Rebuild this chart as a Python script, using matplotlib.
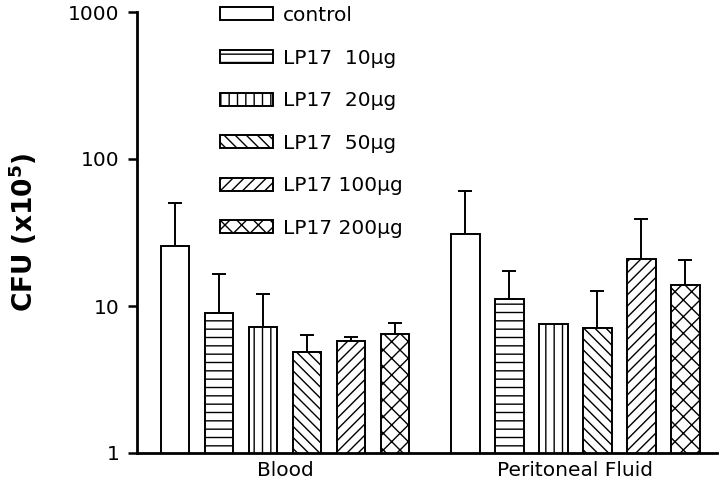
import matplotlib
matplotlib.use("Agg")
import matplotlib.pyplot as plt
import numpy as np

plt.rcParams['font.family'] = ['DejaVu Sans']
plt.rcParams['hatch.linewidth'] = 1.0

groups = ["Blood", "Peritoneal Fluid"]
series = ["control", "LP17  10\u00b5g", "LP17  20\u00b5g", "LP17  50\u00b5g", "LP17 100\u00b5g", "LP17 200\u00b5g"]
blood = [25.7, 8.9, 7.2, 4.9, 5.8, 6.45]
blood_err_top = [50.0, 16.5, 12.1, 6.35, 6.2, 7.65]
perit = [30.7, 11.2, 7.5, 7.1, 21.0, 14.0]
perit_err_top = [61.0, 17.4, 7.5, 12.6, 39.1, 20.7]
hatches = ["", "--", "||", "\\\\\\", "///", "xx"]
yticks = [1, 10, 100, 1000]
ytick_labels = ["1", "10", "100", "1000"]

fig = plt.figure(figsize=(7.2, 4.87), dpi=100)
ax = fig.add_axes([137/720, 1-453/487, (717-137)/720, (453-12)/487])

group_offsets = [0.0, 6.6]
width = 0.65
handles = []
for gi, (vals, tops) in enumerate([(blood, blood_err_top), (perit, perit_err_top)]):
    for si in range(len(series)):
        x = group_offsets[gi] + si
        b = ax.bar(x, vals[si], width=width, bottom=0.0001, color="white", edgecolor="black",
                   linewidth=1.4, hatch=hatches[si], zorder=2)
        err = tops[si] - vals[si]
        if err > 0.01:
            ax.errorbar(x, vals[si], yerr=[[0], [err]], fmt="none", ecolor="black",
                        elinewidth=1.4, capsize=5, capthick=1.4, zorder=1)
        if gi == 0:
            handles.append(b)

ax.set_yscale("log")
ax.set_ylim(1, 1000)
ax.set_xlim(-0.864, 12.32)
ax.set_yticks(yticks)
ax.set_yticklabels(ytick_labels)
ax.yaxis.set_minor_locator(matplotlib.ticker.NullLocator())
ax.set_xticks([group_offsets[0] + 2.5, group_offsets[1] + 2.5])
ax.set_xticklabels(groups)
ax.tick_params(axis="x", length=0, labelsize=14.5, pad=6)
ax.tick_params(axis="y", length=6.5, width=1.8, labelsize=14.5, pad=6)
for s in ["top", "right"]:
    ax.spines[s].set_visible(False)
for s in ["left", "bottom"]:
    ax.spines[s].set_linewidth(2.0)

ax.set_ylabel("CFU (x10$^\\mathregular{5}$)", fontsize=19, fontweight="bold")
ax.yaxis.set_label_coords(-0.169, 0.5)

leg = ax.legend(handles=[h[0] for h in handles], labels=series, loc="upper left",
                bbox_to_anchor=(220/720, 1-6/487), bbox_transform=fig.transFigure,
                frameon=False, fontsize=14.5, handlelength=2.64, handleheight=0.62,
                labelspacing=1.17, handletextpad=0.5, borderpad=0, borderaxespad=0)

fig.savefig("out.png", dpi=100)
